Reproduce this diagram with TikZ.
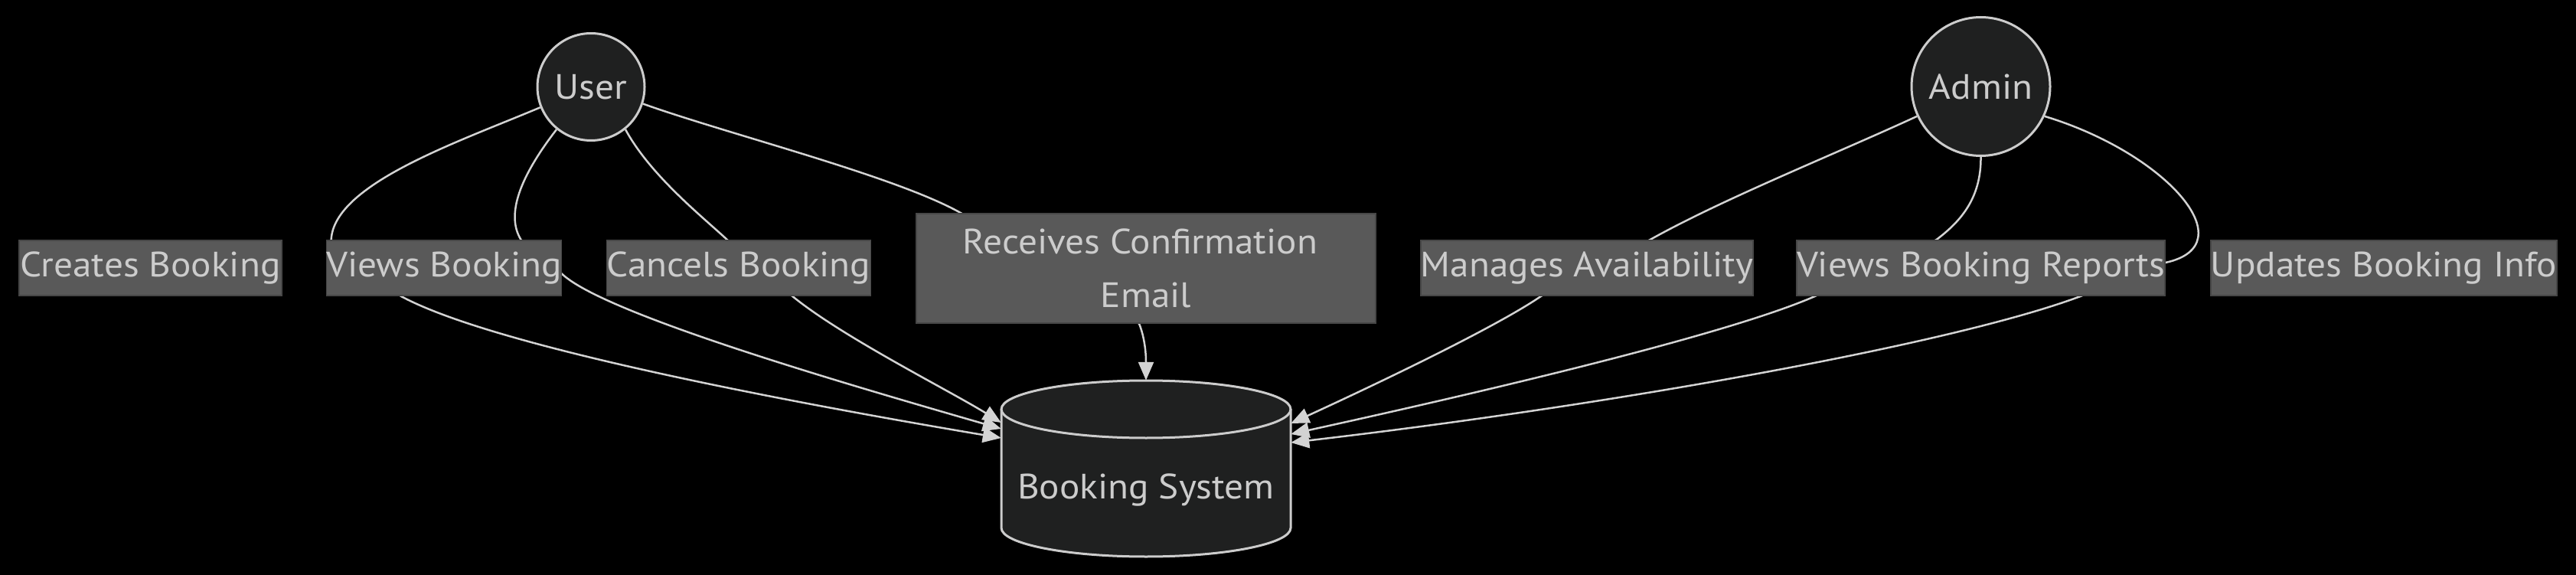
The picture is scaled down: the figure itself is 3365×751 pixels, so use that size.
\documentclass[tikz,border=0pt]{standalone}
\usepackage{fontspec}
\setmainfont{PT Sans}[FakeStretch=1.07]
\usetikzlibrary{arrows.meta}
\definecolor{bgc}{HTML}{000000}
\definecolor{nodefill}{HTML}{1F2020}
\definecolor{nodeline}{HTML}{CCCCCC}
\definecolor{edgec}{HTML}{D3D3D3}
\definecolor{lblfill}{HTML}{595959}
\definecolor{lblline}{HTML}{474747}
\definecolor{txt}{HTML}{CCCCCC}
\pgfdeclarelayer{bglayer}
\pgfdeclarelayer{edgelayer}
\pgfsetlayers{bglayer,edgelayer,main}
\begin{document}
\begin{tikzpicture}[x=1pt,y=-1pt,
  actor/.style={circle, draw=nodeline, line width=3pt, fill=nodefill, text=txt,
    font=\fontsize{46}{55}\selectfont, inner sep=0pt},
  lbl/.style={rectangle, fill=lblfill, draw=lblline, line width=1.5pt, text=txt,
    font=\fontsize{46}{55}\selectfont, minimum height=72pt, inner sep=0pt},
  conn/.style={draw=edgec, line width=2.5pt},
  arr/.style={conn, -{Triangle[length=24pt,width=20pt]}}]
\useasboundingbox (0,0) rectangle (3365,751);
\begin{pgfonlayer}{bglayer}
\fill[bgc] (0,0) rectangle (3365,751);
\end{pgfonlayer}

% actors
\node[actor, minimum size=140pt] (user) at (772,113.5) {User};
\node[actor, minimum size=181pt] (admin) at (2587.5,113) {Admin};

% edge labels
\node[lbl, minimum width=343pt] (lcreate) at (196.5,350) {Creates Booking};
\node[lbl, minimum width=302pt] (lview) at (580,350) {Views Booking};
\node[lbl, minimum width=344pt] (lcancel) at (965,350) {Cancels Booking};
\node[lbl, minimum width=600pt, minimum height=143pt, align=center,
  font=\fontsize{46}{70}\selectfont] (lrecv) at (1497,350.5) {Receives Confirmation\hspace*{15pt}\\Email};
\node[lbl, minimum width=432pt] (lmanage) at (2073,350) {Manages Availability};
\node[lbl, minimum width=479pt] (lreports) at (2587.5,350) {Views Booking Reports};
\node[lbl, minimum width=452pt] (lupdate) at (3114,350) {Updates Booking Info};

% booking system (cylinder)
\node[minimum width=378pt, minimum height=230pt, inner sep=0pt] (sys) at (1497,612) {};
\fill[nodefill] (1308,534.5) -- (1308,689.5)
  arc[start angle=180,end angle=360,x radius=189pt,y radius=37.5pt] -- (1686,534.5)
  arc[start angle=0,end angle=180,x radius=189pt,y radius=37.5pt] -- cycle;
\draw[nodeline, line width=3pt] (1308,534.5) -- (1308,689.5)
  arc[start angle=180,end angle=360,x radius=189pt,y radius=37.5pt] -- (1686,534.5);
\draw[nodeline, line width=3pt] (1497,534.5) ellipse [x radius=189pt, y radius=37.5pt];
\node[text=txt, font=\fontsize{46}{55}\selectfont, inner sep=0pt] (systext) at (1497,640) {Booking System};

% connectors
\begin{pgfonlayer}{edgelayer}
\draw[arr] (user.202) .. controls (600,185) and (436,240) .. ([xshift=7pt]lview.north west)
  -- ([xshift=98pt]lview.south west) .. controls (640,450) and (1000,520) .. ([yshift=40pt]sys.west);
\draw[arr] (user.231) .. controls (680,230) and (660,280) .. ([xshift=255pt]lview.north west)
  -- ([yshift=-8pt]lview.east) .. controls (790,410) and (1100,500) .. ([yshift=52pt]sys.west);
\draw[arr] (user.309) .. controls (850,230) and (920,285) .. ([xshift=158pt]lcancel.north west)
  -- ([xshift=243pt]lcancel.south west) .. controls (1100,440) and (1240,510) .. ([yshift=60pt]sys.west);
\draw[arr] (user.342) .. controls (950,175) and (1170,230) .. ([xshift=59pt]lrecv.north west)
  -- ([xshift=-9pt]lrecv.south) .. controls (1495,440) and (1497,460) .. (sys.north);
\draw[arr] (admin.205) .. controls (2400,200) and (2250,260) .. ([xshift=300pt]lmanage.north west)
  -- ([xshift=158pt]lmanage.south west) .. controls (1950,430) and (1780,510) .. ([yshift=59pt]sys.east);
\draw[arr] (admin.south) .. controls (2588,260) and (2560,290) .. ([xshift=183pt]lreports.north west)
  -- ([xshift=25pt]lreports.south west) .. controls (2250,440) and (1900,520) .. ([yshift=45pt]sys.east);
\draw[arr] (admin.335) .. controls (2830,200) and (2935,320) .. ([yshift=7pt]lreports.east)
  -- ([xshift=372pt]lreports.south west) .. controls (2550,450) and (2100,530) .. ([yshift=34pt]sys.east);
\end{pgfonlayer}
\end{tikzpicture}
\end{document}
